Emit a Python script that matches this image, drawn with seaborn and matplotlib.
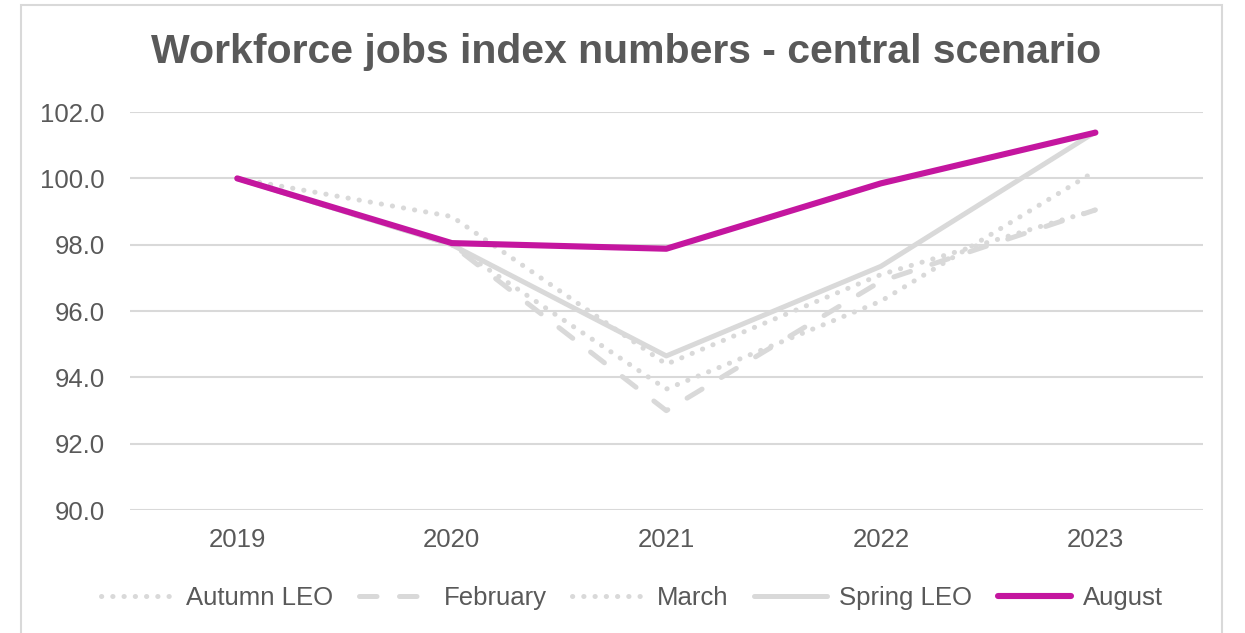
import seaborn as sns
import pandas as pd
import matplotlib.pyplot as plt
from matplotlib.patches import Rectangle

# values
years = ['2019', '2020', '2021', '2022', '2023']
autumn_leo = [100.0, 98.85, 94.4, 97.1, 99.05]
february = [100.0, 98.0, 93.0, 96.9, 99.05]
march = [100.0, 98.0, 93.65, 96.3, 100.22]
spring_leo = [100.0, 98.0, 94.65, 97.35, 101.4]
august = [100.0, 98.05, 97.88, 99.85, 101.38]

series = {
    'Autumn LEO': autumn_leo,
    'February': february,
    'March': march,
    'Spring LEO': spring_leo,
    'August': august,
}

df = pd.concat([pd.DataFrame({'year': years, 'value': v, 'series': k}) for k, v in series.items()])

GREY = '#d9d9d9'
MAGENTA = '#c4169f'
TEXT = '#595959'

sns.set_theme(style='white')
plt.rcParams['font.family'] = ['Liberation Sans', 'DejaVu Sans']

fig = plt.figure(figsize=(12.45, 6.33), dpi=100)
ax = fig.add_axes([0.1044, 0.194, 0.8616, 0.629])

palette = {'Autumn LEO': GREY, 'February': GREY, 'March': GREY, 'Spring LEO': GREY, 'August': MAGENTA}
dashes = {'Autumn LEO': (0.05, 2.2), 'February': (3.5, 4.5), 'March': (0.05, 2.2), 'Spring LEO': '', 'August': ''}
sizes = {'Autumn LEO': 3.6, 'February': 3.6, 'March': 3.6, 'Spring LEO': 3.6, 'August': 4.4}

sns.lineplot(data=df, x='year', y='value', hue='series', style='series', size='series',
             palette=palette, dashes=dashes, sizes=sizes, sort=False, ax=ax, legend=True)

for line in ax.get_lines():
    line.set_dash_capstyle('round')
    line.set_solid_capstyle('round')

ax.set_xlim(-0.5, 4.5)
ax.set_ylim(90, 102)
ax.set_yticks([90, 92, 94, 96, 98, 100, 102])
ax.set_yticklabels(['{:.1f}'.format(t) for t in [90, 92, 94, 96, 98, 100, 102]])
ax.grid(axis='y', color=GREY, linewidth=1.5)
ax.grid(axis='x', visible=False)
for s in ax.spines.values():
    s.set_visible(False)
ax.tick_params(axis='y', length=0, pad=18, labelsize=18.5, labelcolor=TEXT)
ax.tick_params(axis='x', length=0, pad=13, labelsize=18.5, labelcolor=TEXT)
ax.set_xlabel('')
ax.set_ylabel('')

handles, labels = ax.get_legend_handles_labels()
for h in handles:
    h.set_dash_capstyle('round')
    h.set_solid_capstyle('round')
leg = ax.legend(handles, labels, loc='center', ncol=5, frameon=False, fontsize=18.5, labelcolor=TEXT,
                handlelength=2.85, handletextpad=0.45, columnspacing=1.0)
leg.set_bbox_to_anchor((0.5075, (633 - 598) / 633), transform=fig.transFigure)

fig.text(0.503, 0.918, 'Workforce jobs index numbers - central scenario', ha='center', va='center',
         fontsize=29.5, fontweight='bold', color=TEXT)

fig.patches.append(Rectangle((21 / 1245, -0.05), (1222 - 21) / 1245, 0.992 + 0.05, transform=fig.transFigure,
                             fill=False, edgecolor=GREY, linewidth=1.5))

fig.savefig('out.png', dpi=100)
